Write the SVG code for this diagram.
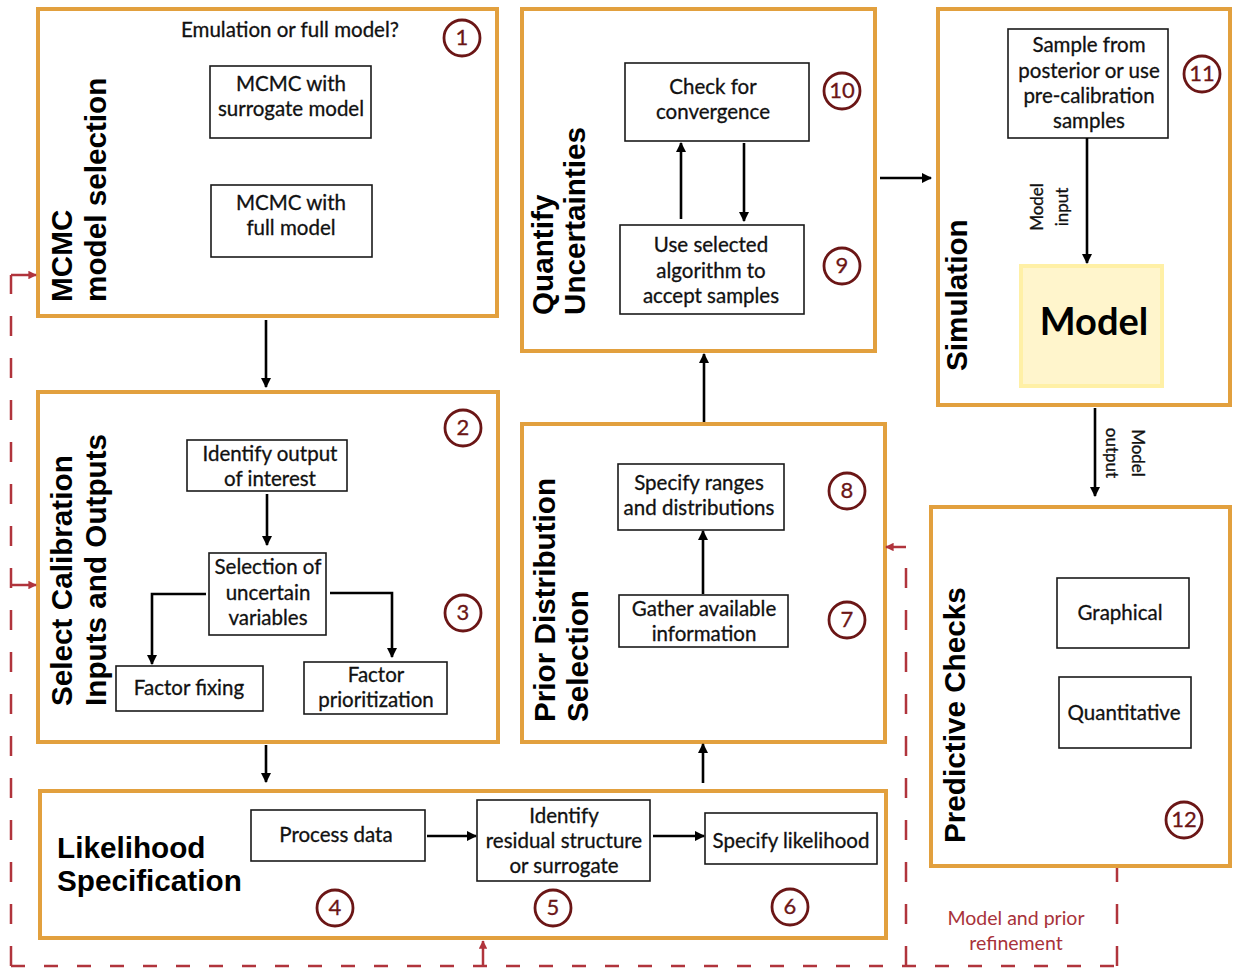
<svg xmlns="http://www.w3.org/2000/svg" width="1233" height="972" viewBox="0 0 1233 972">
<style>
.stage{fill:#fff;stroke:#e2a03e;stroke-width:4}
.box{fill:#fff;stroke:#1a1a1a;stroke-width:1.6}
.t{font-family:Lato,"Liberation Sans",sans-serif;font-size:20.5px;fill:#111;stroke:#111;stroke-width:0.3;text-anchor:middle}
.title{font-family:"Liberation Sans",Arial,sans-serif;font-weight:bold;font-size:29.7px;fill:#000}
.num circle{fill:none;stroke:#6b1616;stroke-width:2.8}
.num text{font-family:Lato,"Liberation Sans",sans-serif;font-size:22px;fill:#6b1616;stroke:#6b1616;stroke-width:0.3;text-anchor:middle}
.lbl{font-family:Lato,"Liberation Sans",sans-serif;font-size:17px;fill:#111;stroke:#111;stroke-width:0.3;text-anchor:middle}
.arr{fill:none;stroke:#000;stroke-width:2.6;marker-end:url(#ah)}
.dash{fill:none;stroke:#b0343c;stroke-width:2.5;stroke-dasharray:20 22}
.dashh{fill:none;stroke:#b0343c;stroke-width:2.5;stroke-dasharray:14 19}
.darr{fill:none;stroke:#b0343c;stroke-width:2.5;marker-end:url(#rh)}
.red{font-family:Lato,"Liberation Sans",sans-serif;font-size:19.5px;fill:#a8323a;text-anchor:middle}
</style>
<defs>
<marker id="ah" viewBox="0 0 10 10" refX="9" refY="5" markerWidth="4" markerHeight="4" orient="auto" markerUnits="strokeWidth">
<path d="M0,0 L10,5 L0,10 Z" fill="#000"/>
</marker>
<marker id="rh" viewBox="0 0 10 10" refX="9" refY="5" markerWidth="3.4" markerHeight="3.4" orient="auto" markerUnits="strokeWidth">
<path d="M0,0 L10,5 L0,10 Z" fill="#b0343c"/>
</marker>
</defs>

<g id="stage-mcmc">
<rect class="stage" x="38" y="9" width="459" height="307"/>
<text class="title" transform="translate(72,302) rotate(-90)">MCMC</text>
<text class="title" transform="translate(106,302) rotate(-90)">model selection</text>
<text class="t" x="290" y="37">Emulation or full model?</text>
<g id="n-surrogate"><rect class="box" x="210" y="66" width="161" height="72"/>
<text class="t" x="291" y="91">MCMC with</text><text class="t" x="291" y="116">surrogate model</text></g>
<g id="n-full"><rect class="box" x="211" y="185" width="161" height="72"/>
<text class="t" x="291" y="210">MCMC with</text><text class="t" x="291" y="235">full model</text></g>
<g class="num"><circle cx="462" cy="38" r="18"/><text x="462" y="45">1</text></g>
</g>

<g id="stage-select">
<rect class="stage" x="38" y="392" width="460" height="350"/>
<text class="title" transform="translate(72,706) rotate(-90)">Select Calibration</text>
<text class="title" transform="translate(106,706) rotate(-90)">Inputs and Outputs</text>
<g id="n-identify-output"><rect class="box" x="187" y="440" width="160" height="51"/>
<text class="t" x="270" y="461">Identify output</text><text class="t" x="270" y="486">of interest</text></g>
<g id="n-selection"><rect class="box" x="209" y="553" width="117" height="82"/>
<text class="t" x="268" y="574">Selection of</text><text class="t" x="268" y="600">uncertain</text><text class="t" x="268" y="625">variables</text></g>
<g id="n-factor-fixing"><rect class="box" x="116" y="666" width="147" height="45"/>
<text class="t" x="189" y="695">Factor fixing</text></g>
<g id="n-factor-prior"><rect class="box" x="304" y="662" width="143" height="52"/>
<text class="t" x="376" y="682">Factor</text><text class="t" x="376" y="707">prioritization</text></g>
<g class="num"><circle cx="463" cy="428" r="18"/><text x="463" y="435">2</text></g>
<g class="num"><circle cx="463" cy="613" r="18"/><text x="463" y="620">3</text></g>
</g>

<g id="stage-likelihood">
<rect class="stage" x="40" y="791" width="846" height="147"/>
<text class="title" x="57" y="858">Likelihood</text>
<text class="title" x="57" y="891">Specification</text>
<g id="n-process"><rect class="box" x="251" y="810" width="174" height="51"/>
<text class="t" x="336" y="842">Process data</text></g>
<g id="n-residual"><rect class="box" x="477" y="800" width="173" height="81"/>
<text class="t" x="564" y="823">Identify</text><text class="t" x="564" y="848">residual structure</text><text class="t" x="564" y="873">or surrogate</text></g>
<g id="n-spec-lik"><rect class="box" x="705" y="813" width="172" height="51"/>
<text class="t" x="791" y="848">Specify likelihood</text></g>
<g class="num"><circle cx="335" cy="908" r="18"/><text x="335" y="915">4</text></g>
<g class="num"><circle cx="553" cy="908" r="18"/><text x="553" y="915">5</text></g>
<g class="num"><circle cx="790" cy="907" r="18"/><text x="790" y="914">6</text></g>
</g>

<g id="stage-quantify">
<rect class="stage" x="522" y="9" width="353" height="342"/>
<text class="title" transform="translate(553,315) rotate(-90)">Quantify</text>
<text class="title" transform="translate(585,315) rotate(-90)">Uncertainties</text>
<g id="n-check"><rect class="box" x="625" y="63" width="184" height="78"/>
<text class="t" x="713" y="94">Check for</text><text class="t" x="713" y="119">convergence</text></g>
<g id="n-use"><rect class="box" x="620" y="225" width="184" height="89"/>
<text class="t" x="711" y="252">Use selected</text><text class="t" x="711" y="278">algorithm to</text><text class="t" x="711" y="303">accept samples</text></g>
<g class="num"><circle cx="842" cy="91" r="18"/><text x="842" y="98">10</text></g>
<g class="num"><circle cx="842" cy="266" r="18"/><text x="842" y="273">9</text></g>
</g>

<g id="stage-prior">
<rect class="stage" x="522" y="424" width="363" height="318"/>
<text class="title" transform="translate(555,722) rotate(-90)">Prior Distribution</text>
<text class="title" transform="translate(588,722) rotate(-90)">Selection</text>
<g id="n-ranges"><rect class="box" x="618" y="464" width="166" height="66"/>
<text class="t" x="699" y="490">Specify ranges</text><text class="t" x="699" y="515">and distributions</text></g>
<g id="n-gather"><rect class="box" x="619" y="595" width="169" height="52"/>
<text class="t" x="704" y="616">Gather available</text><text class="t" x="704" y="641">information</text></g>
<g class="num"><circle cx="847" cy="491" r="18"/><text x="847" y="498">8</text></g>
<g class="num"><circle cx="847" cy="620" r="18"/><text x="847" y="627">7</text></g>
</g>

<g id="stage-simulation">
<rect class="stage" x="938" y="9" width="292" height="396"/>
<text class="title" transform="translate(967,371) rotate(-90)">Simulation</text>
<g id="n-sample"><rect class="box" x="1008" y="29" width="160" height="109"/>
<text class="t" x="1089" y="52">Sample from</text><text class="t" x="1089" y="78">posterior or use</text><text class="t" x="1089" y="103">pre-calibration</text><text class="t" x="1089" y="128">samples</text></g>
<g id="n-model"><rect x="1021" y="266" width="141" height="120" fill="#fff5cc" stroke="#fff0a6" stroke-width="4"/>
<text x="1094" y="335" font-family="Lato,'Liberation Sans',sans-serif" font-weight="bold" font-size="38" text-anchor="middle" fill="#000">Model</text></g>
<g class="num"><circle cx="1202" cy="74" r="18"/><text x="1202" y="81">11</text></g>
</g>

<g id="stage-predictive">
<rect class="stage" x="931" y="507" width="299" height="359"/>
<text class="title" transform="translate(965,843) rotate(-90)">Predictive Checks</text>
<g id="n-graphical"><rect class="box" x="1057" y="578" width="132" height="70"/>
<text class="t" x="1120" y="620">Graphical</text></g>
<g id="n-quant"><rect class="box" x="1059" y="677" width="132" height="71"/>
<text class="t" x="1124" y="720">Quantitative</text></g>
<g class="num"><circle cx="1184" cy="820" r="18"/><text x="1184" y="827">12</text></g>
</g>

<g id="connectors">
<path class="arr" d="M266,320 V387"/>
<path class="arr" d="M266,745 V782"/>
<path class="arr" d="M703,783 V744"/>
<path class="arr" d="M704,422 V354"/>
<path class="arr" d="M880,178 H931"/>
<path class="arr" d="M1095,408 V496"/>
<path class="arr" d="M267,494 V545"/>
<path class="arr" d="M206,594 H152 V664"/>
<path class="arr" d="M330,593 H392 V657"/>
<path class="arr" d="M427,836 H476"/>
<path class="arr" d="M653,836 H704"/>
<path class="arr" d="M681,219 V143"/>
<path class="arr" d="M744,143 V221"/>
<path class="arr" d="M703,594 V531"/>
<path class="arr" d="M1087,138 V263"/>
<text class="lbl" transform="translate(1043,207) rotate(-90)">Model</text>
<text class="lbl" transform="translate(1068,207) rotate(-90)">input</text>
<text class="lbl" transform="translate(1132,453) rotate(90)">Model</text>
<text class="lbl" transform="translate(1106,453) rotate(90)">output</text>
<path class="dash" d="M11,966 V275"/>
<path class="dashh" d="M11,966 H1117"/>
<path class="dash" d="M906,966 V547"/>
<path class="dash" d="M1117,966 V868"/>
<path class="darr" d="M11,275 H36"/>
<path class="darr" d="M11,585 H36"/>
<path class="darr" d="M483,966 V941"/>
<path class="darr" d="M906,547 H886"/>
<text class="red" x="1016" y="925">Model and prior</text>
<text class="red" x="1016" y="950">refinement</text>
</g>
</svg>
